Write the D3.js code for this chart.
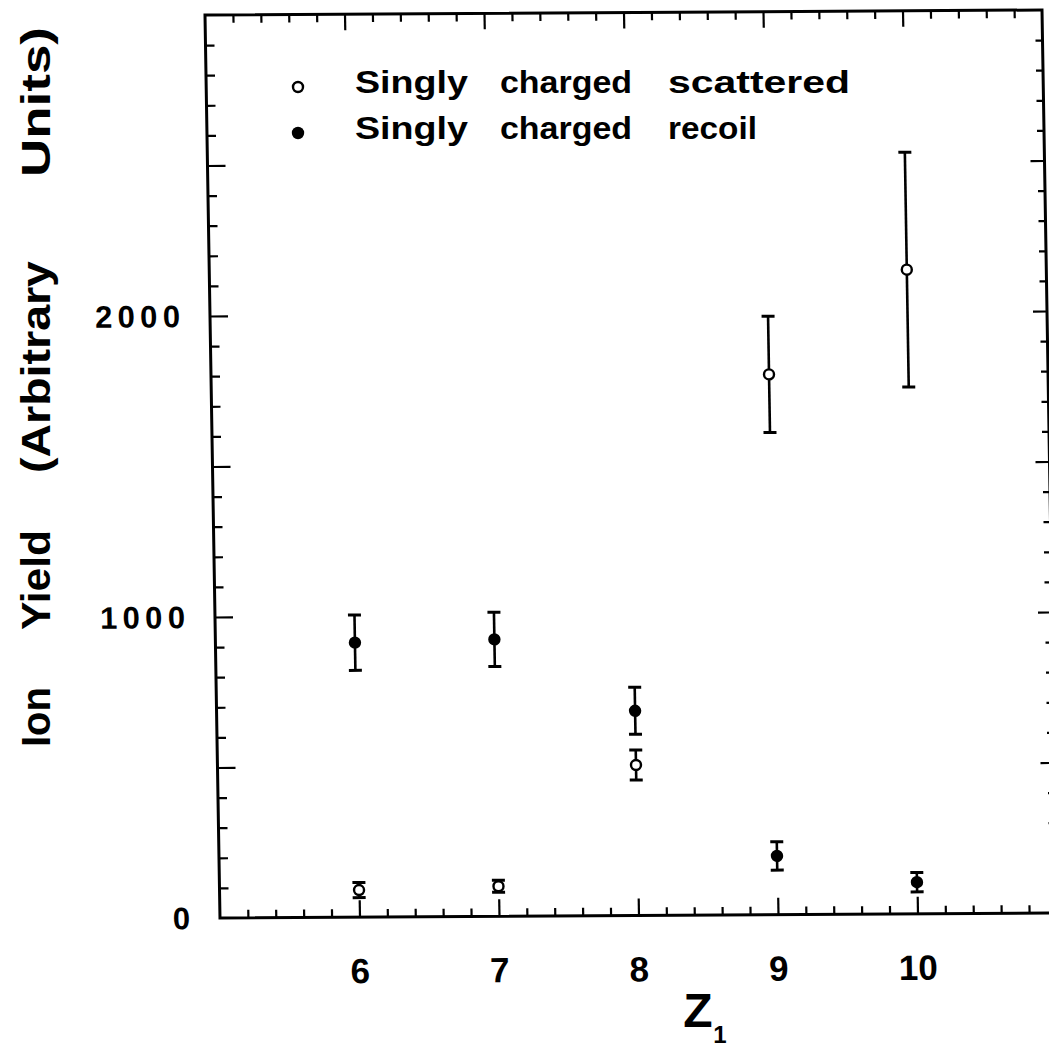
<!DOCTYPE html>
<html>
<head>
<meta charset="utf-8">
<script src="https://cdn.jsdelivr.net/npm/d3@7/dist/d3.min.js"></script>
<style>
  html, body { margin: 0; padding: 0; background: #fff; }
  svg { display: block; }
  text { font-family: "Liberation Sans", Arial, Helvetica, sans-serif; font-weight: bold; fill: #000; }
</style>
</head>
<body>
<svg id="chart" width="1049" height="1052"></svg>
<script>
// ---- data ----
const zValues = [6, 7, 8, 9, 10];
const scatteredYield = [90, 100, 500, 1795, 2140];
const scatteredErr = [25, 20, 50, 193, 390];
const recoilYield = [912, 920, 680, 195, 105];
const recoilErr = [92, 90, 78, 47, 32];
const xTickLabels = [6, 7, 8, 9, 10];
const yTickLabels = [0, 1000, 2000];
const legendLabels = [["Singly", "charged", "scattered"], ["Singly", "charged", "recoil"]];
const yTitleWords = ["Ion", "Yield", "(Arbitrary", "Units)"];

// ---- layout ----
const svg = d3.select("#chart");
const W = 837, H = 903;
const x = d3.scaleLinear().domain([5, 11]).range([0, W]);
const y = d3.scaleLinear().domain([0, 3000]).range([H, 0]);

// slight affine distortion like the scanned original
const g = svg.append("g").attr("transform", "matrix(1,-0.006,0.0166,1,205,15)");

const xMajor = d3.range(6, 11);
const xMinor = d3.range(26, 55).map(d => d / 5).filter(d => Math.abs(d - Math.round(d)) > 1e-6);
const yMajor = d3.range(500, 3000, 500);
const yMinor = d3.range(100, 3000, 100).filter(d => d % 500 !== 0);

function styleAxis(sel) {
  sel.select(".domain").remove();
  sel.selectAll(".tick line").attr("stroke", "#000").attr("stroke-width", 2.2);
  sel.selectAll(".tick text").remove();
}

// bottom
g.append("g").attr("transform", `translate(0,${H})`)
  .call(d3.axisBottom(x).tickValues(xMajor).tickSize(-17).tickFormat(""))
  .call(styleAxis);
g.append("g").attr("transform", `translate(0,${H})`)
  .call(d3.axisBottom(x).tickValues(xMinor).tickSize(-8).tickFormat(""))
  .call(styleAxis);
// top
g.append("g")
  .call(d3.axisTop(x).tickValues(xMajor).tickSize(-16).tickFormat(""))
  .call(styleAxis);
g.append("g")
  .call(d3.axisTop(x).tickValues(xMinor).tickSize(-8).tickFormat(""))
  .call(styleAxis);
// left
g.append("g")
  .call(d3.axisLeft(y).tickValues(yMajor).tickSize(-18).tickFormat(""))
  .call(styleAxis);
g.append("g")
  .call(d3.axisLeft(y).tickValues(yMinor).tickSize(-9).tickFormat(""))
  .call(styleAxis);
// right
g.append("g").attr("transform", `translate(${W},0)`)
  .call(d3.axisRight(y).tickValues(yMajor).tickSize(-14).tickFormat(""))
  .call(styleAxis);
g.append("g").attr("transform", `translate(${W},0)`)
  .call(d3.axisRight(y).tickValues(yMinor).tickSize(-7).tickFormat(""))
  .call(styleAxis);

// frame
g.append("rect").attr("x", 0).attr("y", 0).attr("width", W).attr("height", H)
  .attr("fill", "none").attr("stroke", "#000").attr("stroke-width", 3);

// tick labels
g.selectAll(".xlab").data(xTickLabels).join("text")
  .attr("class", "xlab")
  .attr("x", d => x(d)).attr("y", H + 66)
  .attr("text-anchor", "middle").attr("font-size", 35)
  .text(d => d);
g.selectAll(".ylab").data(yTickLabels).join("text")
  .attr("class", "ylab")
  .attr("x", -30).attr("y", d => y(d) + 11)
  .attr("text-anchor", "end").attr("font-size", 31)
  .each(function(d) { if (String(d).length > 1) d3.select(this).attr("textLength", 85).attr("lengthAdjust", "spacing"); })
  .text(d => d);

// error bars + markers
function series(vals, errs, filled) {
  const grp = g.append("g");
  const data = zValues.map((z, i) => ({ z, v: vals[i], e: errs[i] }));
  grp.selectAll(".eb").data(data).join("line")
    .attr("x1", d => x(d.z)).attr("x2", d => x(d.z))
    .attr("y1", d => y(d.v - d.e)).attr("y2", d => y(d.v + d.e))
    .attr("stroke", "#000").attr("stroke-width", 2.6);
  ["lo", "hi"].forEach(k => {
    grp.selectAll(".cap" + k).data(data).join("line")
      .attr("x1", d => x(d.z) - 6.5).attr("x2", d => x(d.z) + 6.5)
      .attr("y1", d => y(k === "lo" ? d.v - d.e : d.v + d.e))
      .attr("y2", d => y(k === "lo" ? d.v - d.e : d.v + d.e))
      .attr("stroke", "#000").attr("stroke-width", 3);
  });
  grp.selectAll("circle").data(data).join("circle")
    .attr("cx", d => x(d.z)).attr("cy", d => y(d.v))
    .attr("r", filled ? 6.2 : 5)
    .attr("fill", filled ? "#000" : "#fff")
    .attr("stroke", "#000").attr("stroke-width", filled ? 0 : 2.4);
}
series(scatteredYield, scatteredErr, false);
series(recoilYield, recoilErr, true);

// legend
const legX = [355, 500, 668];
const legW = [[113, 132, 182], [113, 132, 89]];
const legBase = [93, 139];
legendLabels.forEach((words, i) => {
  svg.append("circle").attr("cx", 298).attr("cy", legBase[i] - 6).attr("r", i === 0 ? 5 : 6.2)
    .attr("fill", i === 0 ? "#fff" : "#000").attr("stroke", "#000").attr("stroke-width", i === 0 ? 2.4 : 0);
  words.forEach((w, j) => {
    svg.append("text").attr("x", legX[j]).attr("y", legBase[i])
      .attr("font-size", 32).attr("textLength", legW[i][j]).attr("lengthAdjust", "spacingAndGlyphs")
      .text(w);
  });
});

// y title (rotated words)
const yTitleCenters = [717, 580, 367, 102];
const yTitleLens = [60, 100, 212, 150];
yTitleWords.forEach((w, i) => {
  svg.append("text")
    .attr("transform", `translate(50,${yTitleCenters[i]}) rotate(-90)`)
    .attr("text-anchor", "middle").attr("font-size", 40)
    .attr("textLength", yTitleLens[i]).attr("lengthAdjust", "spacingAndGlyphs")
    .text(w);
});

// x title
svg.append("text").attr("x", 698).attr("y", 1027).attr("text-anchor", "middle")
  .attr("font-size", 48).text("Z");
svg.append("text").attr("x", 720).attr("y", 1043).attr("text-anchor", "middle")
  .attr("font-size", 24).text("1");
</script>
</body>
</html>
